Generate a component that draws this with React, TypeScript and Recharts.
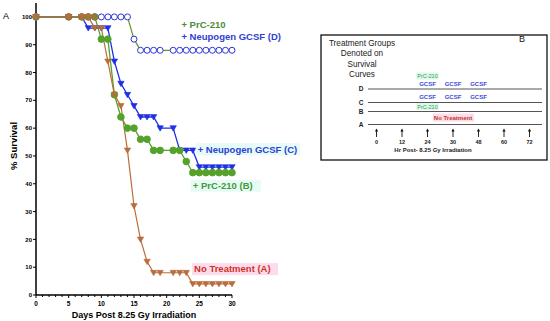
import { LineChart, Line, XAxis, YAxis, ReferenceDot } from 'recharts'

// days post irradiation and % survival, one pair of arrays per group
const daysA = [0, 5, 7, 8, 9, 10, 11, 12, 13, 14, 15, 16, 17, 18, 19, 21, 22, 23, 24, 25, 26, 27, 28, 29, 30]
const survA = [100, 100, 100, 100, 96, 96, 84, 72, 68, 52, 32, 20, 12, 8, 8, 8, 8, 8, 4, 4, 4, 4, 4, 4, 4]

const daysB = [0, 5, 7, 8, 9, 10, 11, 12, 13, 14, 15, 16, 17, 18, 19, 21, 22, 23, 24, 25, 26, 27, 28, 29, 30]
const survB = [100, 100, 100, 100, 100, 92, 92, 72, 64, 60, 60, 56, 56, 52, 52, 52, 52, 48, 44, 44, 44, 44, 44, 44, 44]

const daysC = [0, 5, 7, 8, 9, 10, 11, 12, 13, 14, 15, 16, 17, 18, 19, 21, 22, 23, 24, 25, 26, 27, 28, 29, 30]
const survC = [100, 100, 100, 96, 96, 96, 96, 84, 76, 72, 68, 64, 64, 64, 60, 60, 52, 52, 52, 46, 46, 46, 46, 46, 46]

const daysD = [0, 5, 7, 8, 9, 10, 11, 12, 13, 14, 15, 16, 17, 18, 19, 21, 22, 23, 24, 25, 26, 27, 28, 29, 30]
const survD = [100, 100, 100, 100, 100, 100, 100, 100, 100, 100, 92, 88, 88, 88, 88, 88, 88, 88, 88, 88, 88, 88, 88, 88, 88]

const yTicks = [0, 10, 20, 30, 40, 50, 60, 70, 80, 90, 100]
const xTicks = Array.from({ length: 31 }, (_, i) => i)

// panel B
const hourTicks = ['0', '12', '24', '30', '48', '60', '72']
const groupRows = ['D', 'C', 'B', 'A']
const gcsfHours = [2, 3, 4] // index into hourTicks
const prcHour = 2

const toRows = (days: number[], surv: number[]) => days.map((d, i) => ({ day: d, pct: surv[i] }))

const A_COL = '#b96d3a'
const B_COL = '#55a22b'
const C_COL = '#1e30e4'
const D_LINE = '#6f902c'
const D_MARK = '#2b36d6'
const FONT = '"Liberation Sans", Arial, sans-serif'

const TriDot = (props: any) => {
  const { cx, cy, index } = props
  if (cx == null || cy == null) return null
  return <path key={`a-${index}`} d={`M${cx - 3.2},${cy - 2.4} L${cx + 3.2},${cy - 2.4} L${cx},${cy + 3} Z`} fill={props.color} stroke={props.color} strokeWidth={0.6} />
}

const BDot = (props: any) => {
  const { cx, cy, index, payload } = props
  const c = payload.pct === 100 ? '#8a7c3c' : B_COL
  return <circle key={`b-${index}`} cx={cx} cy={cy} r={3.3} fill={c} stroke={c} />
}

const DDot = (props: any) => {
  const { cx, cy, index } = props
  return <circle key={`d-${index}`} cx={cx} cy={cy} r={3} fill="#fff" stroke={D_MARK} strokeWidth={1} />
}

const DayTick = (props: any) => {
  const { x, y, payload } = props
  const major = payload.value % 5 === 0
  return (
    <g>
      <line x1={x} x2={x} y1={y} y2={y + (major ? 3 : 2)} stroke="#000" strokeWidth={1} />
      {major && (
        <text x={x} y={y + 8} textAnchor="middle" dominantBaseline="central" fontSize={6.5} fontWeight={700} fontFamily={FONT} fill="#000">
          {payload.value}
        </text>
      )}
    </g>
  )
}

const Tag = (props: any) => {
  const { viewBox, text, color, bg, width } = props
  const x = viewBox?.x ?? 0
  const y = viewBox?.y ?? 0
  return (
    <g>
      {bg && <rect x={x - 2} y={y - 6} width={width} height={12} fill={bg} />}
      <text x={x} y={y} dy="0.35em" fill={color} fontSize={9.5} fontWeight={700} fontFamily={FONT}>
        {text}
      </text>
    </g>
  )
}

const YTitle = () => (
  <text x={13} y={146} transform="rotate(-90 13 146)" textAnchor="middle" dominantBaseline="central" fontSize={9.5} fontWeight={700} fontFamily={FONT} fill="#000">
    % Survival
  </text>
)

function PanelB() {
  const ax = (i: number) => 376.5 + i * 25.5
  const rowY: Record<string, number> = { D: 88.5, C: 102, B: 111, A: 124 }
  return (
    <svg width={550} height={321} style={{ position: 'absolute', left: 0, top: 0 }} fontFamily={FONT}>
      <text x={3} y={16} dominantBaseline="central" fontSize={9} fill="#000">A</text>
      <rect x={321} y={35} width={226} height={125} fill="none" stroke="#111" strokeWidth={1.3} />
      <text x={522} y={39} dominantBaseline="central" textAnchor="middle" fontSize={9} fill="#111">B</text>
      {['Treatment Groups', 'Denoted on', 'Survival', 'Curves'].map((t, i) => (
        <text key={t} x={362} y={43 + i * 10.6} textAnchor="middle" dominantBaseline="central" fontSize={8.2} fill="#222">
          {t}
        </text>
      ))}
      {groupRows.map(g => (
        <g key={g}>
          <text x={361} y={rowY[g]} textAnchor="middle" dominantBaseline="central" fontSize={6.5} fontWeight={700} fill="#222">{g}</text>
          <line x1={368} x2={542} y1={rowY[g] + 0.5} y2={rowY[g] + 0.5} stroke="#555" strokeWidth={1} />
        </g>
      ))}
      <rect x={ax(prcHour) - 11} y={72.5} width={22} height={7} fill="#dcf7ec" />
      <text x={ax(prcHour)} y={76} textAnchor="middle" dominantBaseline="central" fontSize={5.5} fill="#3f9a55">PrC-210</text>
      {gcsfHours.map(h => (
        <g key={h}>
          <text x={ax(h)} y={83.5} textAnchor="middle" dominantBaseline="central" fontSize={6} fontWeight={700} fill="#3a48d8">GCSF</text>
          <text x={ax(h)} y={96.5} textAnchor="middle" dominantBaseline="central" fontSize={6} fontWeight={700} fill="#3a48d8">GCSF</text>
        </g>
      ))}
      <rect x={ax(prcHour) - 11} y={103} width={22} height={7} fill="#dcf7ec" />
      <text x={ax(prcHour)} y={106.5} textAnchor="middle" dominantBaseline="central" fontSize={5.5} fill="#3f9a55">PrC-210</text>
      <rect x={433} y={113.5} width={41} height={8} fill="#fbdde9" />
      <text x={453} y={117.7} textAnchor="middle" dominantBaseline="central" fontSize={6} fontWeight={700} fill="#c0392b">No Treatment</text>
      {hourTicks.map((h, i) => (
        <g key={h}>
          <line x1={ax(i)} x2={ax(i)} y1={137} y2={130} stroke="#111" strokeWidth={0.9} />
          <path d={`M${ax(i) - 1.6},${131.5} L${ax(i)},${128.5} L${ax(i) + 1.6},${131.5} Z`} fill="#111" />
          <text x={ax(i)} y={141.8} textAnchor="middle" dominantBaseline="central" fontSize={5.5} fontWeight={700} fill="#222">{h}</text>
        </g>
      ))}
      <text x={433} y={150} textAnchor="middle" dominantBaseline="central" fontSize={6} fontWeight={700} fill="#222">
        Hr Post- 8.25 Gy Irradiation
      </text>
    </svg>
  )
}

export default function App() {
  return (
    <div style={{ position: 'absolute', left: 0, top: 0, width: 550, height: 321, background: '#fff', fontFamily: FONT }}>
      <LineChart width={320} height={321} margin={{ top: 3, right: 88, bottom: 0, left: 0 }}>
        <XAxis
          type="number"
          dataKey="day"
          domain={[0, 30]}
          ticks={xTicks}
          interval={0}
          tick={<DayTick />}
          tickLine={false}
          tickSize={0}
          tickMargin={0}
          height={26}
          axisLine={{ stroke: '#000', strokeWidth: 1.5 }}
          label={{ value: 'Days Post 8.25 Gy Irradiation', position: 'insideBottom', offset: 3, fontSize: 9, fontWeight: 700, fill: '#000' }}
        />
        <YAxis
          type="number"
          domain={[0, 105]}
          ticks={yTicks}
          width={36}
          tickSize={3}
          tickMargin={1}
          tick={{ fontSize: 6, fontWeight: 700, fill: '#000' }}
          tickLine={{ stroke: '#000' }}
          axisLine={{ stroke: '#000', strokeWidth: 1.5 }}
          label={<YTitle />}
        />
        <Line data={toRows(daysD, survD)} dataKey="pct" stroke={D_LINE} strokeWidth={1.2} dot={DDot} isAnimationActive={false} />
        <Line data={toRows(daysC, survC)} dataKey="pct" stroke={C_COL} strokeWidth={1.3} dot={(p: any) => <TriDot {...p} color={C_COL} />} isAnimationActive={false} />
        <Line data={toRows(daysB, survB)} dataKey="pct" stroke={B_COL} strokeWidth={1.3} dot={BDot} isAnimationActive={false} />
        <Line data={toRows(daysA, survA)} dataKey="pct" stroke={A_COL} strokeWidth={1.2} dot={(p: any) => <TriDot {...p} color={A_COL} />} isAnimationActive={false} />
        <ReferenceDot x={22.26} y={97.1} r={0} fill="none" stroke="none" label={<Tag text="+ PrC-210" color="#4d8a3c" />} />
        <ReferenceDot x={22.26} y={92.8} r={0} fill="none" stroke="none" label={<Tag text="+ Neupogen GCSF (D)" color="#3140d2" />} />
        <ReferenceDot x={24.75} y={52.4} r={0} fill="none" stroke="none" label={<Tag text="+ Neupogen GCSF (C)" color="#2b3fd6" bg="#e6fbf7" width={104} />} />
        <ReferenceDot x={24.0} y={39.3} r={0} fill="none" stroke="none" label={<Tag text="+ PrC-210 (B)" color="#3f9a3a" bg="#e6fbf3" width={70} />} />
        <ReferenceDot x={24.2} y={9.3} r={0} fill="none" stroke="none" label={<Tag text="No Treatment (A)" color="#d0321f" bg="#fcdcec" width={86} />} />
      </LineChart>
      <PanelB />
    </div>
  )
}
